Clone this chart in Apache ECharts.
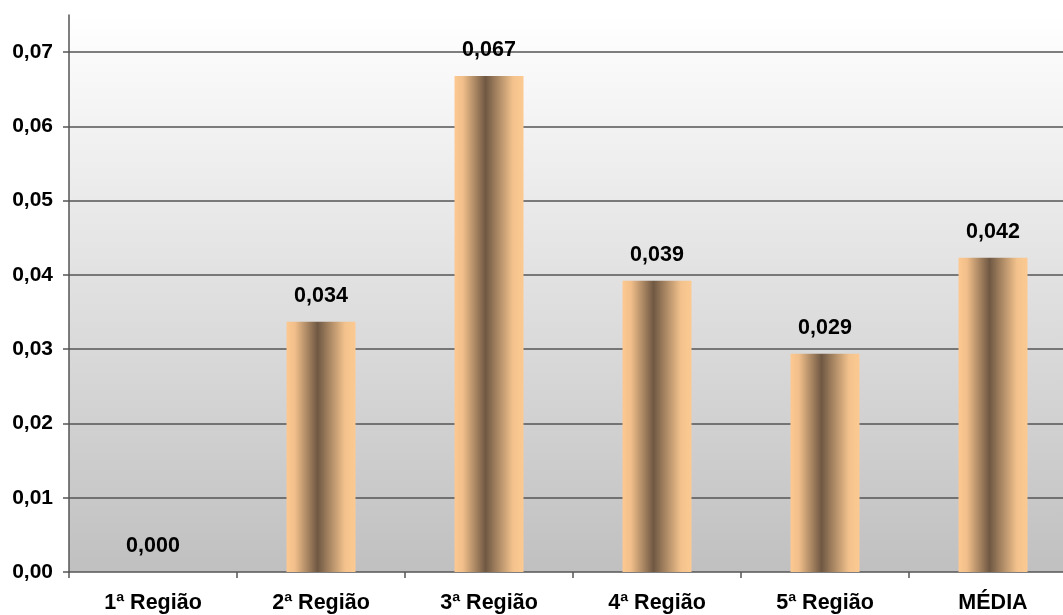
<!DOCTYPE html>
<html>
<head>
<meta charset="utf-8">
<script src="https://cdn.jsdelivr.net/npm/echarts@6/dist/echarts.min.js"></script>
<style>
html,body{margin:0;padding:0;background:#fff;overflow:hidden;}
#chart{width:1063px;height:615px;}
</style>
</head>
<body>
<div id="chart"></div>
<script>
const categories = ['1ª Região', '2ª Região', '3ª Região', '4ª Região', '5ª Região', 'MÉDIA'];
const values = [0.000, 0.0337, 0.0668, 0.0392, 0.0294, 0.0423];
const yTicks = [0, 0.01, 0.02, 0.03, 0.04, 0.05, 0.06, 0.07];
const yMax = 0.075;

const FONT = "'Liberation Sans', Arial, sans-serif";
const fmt = (v, d) => v.toFixed(d).replace('.', ',');

const chart = echarts.init(document.getElementById('chart'), null, {renderer: 'canvas'});
chart.setOption({
  backgroundColor: '#ffffff',
  animation: false,
  grid: {
    left: 69, width: 1008, top: 15, bottom: 43,
    outerBoundsMode: 'none',
    containLabel: false,
    show: true,
    borderWidth: 0,
    backgroundColor: new echarts.graphic.LinearGradient(0, 0, 0, 1, [
      {offset: 0, color: '#ffffff'},
      {offset: 1, color: '#c0c0c0'}
    ])
  },
  xAxis: {
    type: 'category',
    data: categories,
    axisLine: {lineStyle: {color: '#555555', width: 1.5}},
    axisTick: {show: true, length: 6, lineStyle: {color: '#555555', width: 1.5}},
    axisLabel: {
      color: '#000', fontFamily: FONT, fontWeight: 'bold', fontSize: 21.5, margin: 20
    }
  },
  yAxis: {
    type: 'value',
    min: 0, max: yMax,
    axisLine: {show: true, lineStyle: {color: '#555555', width: 1.5}},
    axisTick: {show: true, length: 6, customValues: yTicks, lineStyle: {color: '#555555', width: 1.5}},
    splitLine: {show: false},
    axisLabel: {
      customValues: yTicks,
      color: '#000', fontFamily: FONT, fontWeight: 'bold', fontSize: 21, margin: 16,
      formatter: v => fmt(v, 2)
    }
  },
  series: [{
    type: 'bar',
    data: values,
    barWidth: 69,
    itemStyle: {
      color: new echarts.graphic.LinearGradient(0, 0, 1, 0, [
        {offset: 0, color: '#fcc992'},
        {offset: 0.12, color: '#f2bf8a'},
        {offset: 0.45, color: '#6f5843'},
        {offset: 0.85, color: '#f4c38d'},
        {offset: 1, color: '#fcc992'}
      ])
    },
    label: {
      show: true, position: 'top', distance: 15,
      color: '#000', fontFamily: FONT, fontWeight: 'bold', fontSize: 21.5,
      formatter: p => fmt(p.value, 3)
    },
    markLine: {
      silent: true, symbol: 'none', z: 1,
      label: {show: false},
      lineStyle: {color: '#555555', width: 1.5, type: 'solid'},
      data: yTicks.filter(v => v > 0).map(v => ({yAxis: v}))
    },
    z: 3
  }]
});
</script>
</body>
</html>
